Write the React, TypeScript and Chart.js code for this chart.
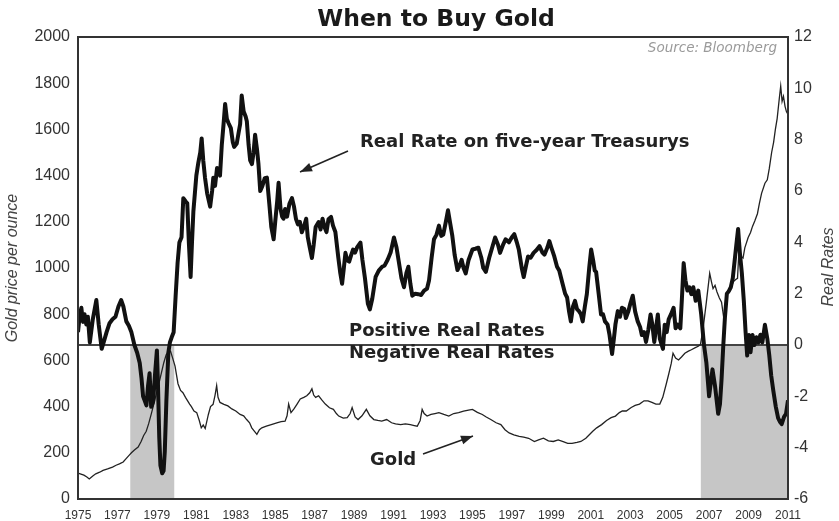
import React, { useEffect, useRef } from "react";
import { Chart, registerables } from "chart.js";

Chart.register(...registerables);

const xTickYears = [1975, 1977, 1979, 1981, 1983, 1985, 1987, 1989, 1991, 1993, 1995, 1997, 1999, 2001, 2003, 2005, 2007, 2009, 2011];
const goldTicks = [0, 200, 400, 600, 800, 1000, 1200, 1400, 1600, 1800, 2000];
const rateTicks = [-6, -4, -2, 0, 2, 4, 6, 8, 10, 12];

const shadeStart = [1977.65, 2006.58];
const shadeEnd = [1979.88, 2011];

const rateYears = [
  1975.0, 1975.08, 1975.17, 1975.25, 1975.33, 1975.42, 1975.5, 1975.6, 1975.75, 1975.93,
  1976.05, 1976.2, 1976.3, 1976.45, 1976.6, 1976.75, 1976.9, 1977.05, 1977.19, 1977.3,
  1977.45, 1977.58, 1977.7, 1977.86, 1978.0, 1978.13, 1978.22, 1978.3, 1978.4, 1978.47,
  1978.55, 1978.63, 1978.71, 1978.81, 1978.9, 1979.0, 1979.05, 1979.12, 1979.18, 1979.27,
  1979.34, 1979.4, 1979.48, 1979.58, 1979.66, 1979.75, 1979.85, 1979.95, 1980.05, 1980.14,
  1980.25, 1980.34, 1980.45, 1980.54, 1980.62, 1980.71, 1980.78, 1980.85, 1981.0, 1981.1,
  1981.2, 1981.27, 1981.35, 1981.44, 1981.55, 1981.7, 1981.8, 1981.86, 1981.95, 1982.05,
  1982.12, 1982.2, 1982.29, 1982.38, 1982.46, 1982.55, 1982.63, 1982.75, 1982.85, 1982.92,
  1983.05, 1983.15, 1983.22, 1983.3, 1983.4, 1983.5, 1983.56, 1983.65, 1983.73, 1983.82,
  1983.9, 1983.98, 1984.08, 1984.15, 1984.24, 1984.35, 1984.47, 1984.58, 1984.7, 1984.8,
  1984.92, 1985.0, 1985.1, 1985.17, 1985.27, 1985.35, 1985.42, 1985.5, 1985.6, 1985.72,
  1985.85, 1985.95, 1986.05, 1986.15, 1986.25, 1986.35, 1986.45, 1986.57, 1986.65, 1986.75,
  1986.86, 1986.95, 1987.05, 1987.2, 1987.3, 1987.4, 1987.5, 1987.6, 1987.7, 1987.83,
  1987.93, 1988.05, 1988.2, 1988.3, 1988.39, 1988.48, 1988.56, 1988.65, 1988.75, 1988.85,
  1988.95, 1989.05, 1989.15, 1989.32, 1989.42, 1989.55, 1989.7, 1989.8, 1989.92, 1990.09,
  1990.25, 1990.42, 1990.55, 1990.7, 1990.85, 1991.02, 1991.15, 1991.25, 1991.4, 1991.53,
  1991.65, 1991.75, 1991.85, 1991.95, 1992.1, 1992.25, 1992.4, 1992.55, 1992.7, 1992.8,
  1992.93, 1993.05, 1993.18, 1993.3, 1993.42, 1993.52, 1993.65, 1993.76, 1993.88, 1993.98,
  1994.1, 1994.24, 1994.35, 1994.45, 1994.55, 1994.66, 1994.8, 1995.0, 1995.15, 1995.3,
  1995.45, 1995.55, 1995.68, 1995.85, 1996.02, 1996.15, 1996.3, 1996.4, 1996.55, 1996.68,
  1996.85, 1997.0, 1997.12, 1997.25, 1997.35, 1997.5, 1997.6, 1997.72, 1997.82, 1997.95,
  1998.1, 1998.25, 1998.4, 1998.55, 1998.65, 1998.8, 1998.9, 1999.0, 1999.15, 1999.29,
  1999.4, 1999.57, 1999.7, 1999.8, 1999.9, 1999.99, 2000.1, 2000.2, 2000.3, 2000.4,
  2000.5, 2000.59, 2000.7, 2000.8, 2000.92, 2001.02, 2001.12, 2001.2, 2001.27, 2001.4,
  2001.52, 2001.62, 2001.72, 2001.85, 2001.95, 2002.08, 2002.18, 2002.25, 2002.37, 2002.48,
  2002.58, 2002.7, 2002.78, 2002.9, 2003.0, 2003.13, 2003.25, 2003.38, 2003.5, 2003.59,
  2003.7, 2003.8, 2003.92, 2004.03, 2004.12, 2004.22, 2004.3, 2004.4, 2004.5, 2004.66,
  2004.75, 2004.85, 2004.95, 2005.07, 2005.2, 2005.3, 2005.4, 2005.54, 2005.62, 2005.71,
  2005.8, 2005.9, 2006.0, 2006.1, 2006.2, 2006.32, 2006.45, 2006.6, 2006.74, 2006.86,
  2007.0, 2007.08, 2007.17, 2007.3, 2007.46, 2007.55, 2007.63, 2007.72, 2007.8, 2007.9,
  2008.0, 2008.1, 2008.2, 2008.3, 2008.38, 2008.47, 2008.56, 2008.66, 2008.76, 2008.85,
  2008.93, 2009.02, 2009.1, 2009.2, 2009.3, 2009.4, 2009.5, 2009.6, 2009.7, 2009.83,
  2009.95, 2010.05, 2010.15, 2010.25, 2010.38, 2010.5, 2010.6, 2010.68, 2010.8, 2010.9,
  2011.0,
];
const rateValues = [
  0.5, 1.1, 1.45, 0.9, 1.2, 0.8, 1.1, 0.1, 1.0, 1.75,
  0.8, -0.15, 0.1, 0.5, 0.85, 1.0, 1.1, 1.5, 1.75, 1.5,
  0.92, 0.75, 0.52, 0.0, -0.3, -0.7, -1.3, -2.0, -2.2, -2.35,
  -1.6, -1.1, -2.41, -2.2, -1.2, -0.21, -1.4, -3.6, -4.7, -5.0,
  -4.9, -4.15, -2.2, -0.3, 0.1, 0.3, 0.5, 1.9, 3.2, 3.99,
  4.2, 5.72, 5.6, 5.52, 4.0, 2.65, 4.0, 5.2, 6.6, 7.1,
  7.5, 8.05, 7.2, 6.52, 5.9, 5.39, 6.0, 6.52, 6.2, 6.9,
  6.85, 6.6, 7.79, 8.6, 9.39, 8.8, 8.65, 8.45, 7.9, 7.72,
  7.85, 8.3, 8.6, 9.72, 9.1, 8.9, 8.72, 7.8, 7.19, 7.05,
  7.5, 8.19, 7.6, 7.05, 6.0, 6.2, 6.5, 6.52, 5.5, 4.6,
  4.12, 4.8, 5.6, 6.32, 5.3, 5.0, 4.92, 5.3, 5.0, 5.5,
  5.72, 5.4, 4.92, 4.7, 4.8, 4.39, 4.6, 4.92, 4.2, 3.8,
  3.39, 3.9, 4.6, 4.79, 4.5, 4.92, 4.6, 4.4, 4.9, 4.99,
  4.65, 4.4, 3.4, 2.8, 2.39, 3.0, 3.59, 3.3, 3.25, 3.5,
  3.72, 3.6, 3.8, 3.99, 3.32, 2.6, 1.6, 1.39, 1.8, 2.65,
  2.9, 3.05, 3.1, 3.32, 3.6, 4.19, 3.8, 3.32, 2.6, 2.25,
  2.8, 3.05, 2.4, 1.92, 2.0, 1.98, 1.95, 2.12, 2.2, 2.52,
  3.4, 4.12, 4.3, 4.65, 4.25, 4.3, 4.8, 5.25, 4.7, 4.25,
  3.5, 2.92, 3.1, 3.32, 3.0, 2.79, 3.3, 3.72, 3.75, 3.79,
  3.4, 3.0, 2.85, 3.4, 3.85, 4.19, 3.9, 3.59, 3.9, 4.12,
  4.0, 4.2, 4.32, 4.0, 3.72, 3.0, 2.65, 3.1, 3.45, 3.4,
  3.59, 3.7, 3.85, 3.6, 3.52, 3.8, 4.05, 3.8, 3.45, 3.05,
  2.9, 2.39, 2.0, 1.85, 1.3, 0.92, 1.5, 1.72, 1.4, 1.32,
  1.2, 0.92, 1.5, 1.98, 3.0, 3.72, 3.3, 2.9, 2.85, 2.0,
  1.19, 1.2, 0.92, 0.8, 0.39, -0.35, 0.3, 0.8, 1.32, 1.1,
  1.45, 1.4, 1.05, 1.3, 1.6, 1.92, 1.3, 0.92, 0.7, 0.39,
  0.5, 0.12, 0.6, 1.19, 0.8, 0.12, 0.6, 1.19, 0.25, -0.15,
  0.79, 0.5, 1.0, 1.2, 1.45, 0.65, 0.8, 0.65, 1.8, 3.19,
  2.52, 2.12, 2.25, 1.98, 2.25, 1.72, 2.12, 1.19, 0.0, -0.68,
  -2.0, -1.5, -0.95, -1.6, -2.68, -2.3, -1.35, 0.0, 1.05, 2.0,
  2.1, 2.25, 2.6, 3.32, 3.9, 4.52, 3.59, 2.8, 1.72, 0.5,
  -0.41, 0.39, -0.28, 0.39, 0.0, 0.3, 0.1, 0.4, 0.1, 0.79,
  0.25, -0.4, -1.2, -1.75, -2.4, -2.85, -3.0, -3.08, -2.8, -2.68,
  -2.15,
];

const goldYears = [
  1975.0, 1975.15, 1975.3, 1975.45, 1975.57, 1975.75, 1975.9, 1976.1, 1976.27, 1976.5,
  1976.75, 1976.93, 1977.1, 1977.29, 1977.44, 1977.6, 1977.71, 1977.86, 1978.05, 1978.2,
  1978.33, 1978.46, 1978.58, 1978.71, 1978.84, 1978.97, 1979.1, 1979.22, 1979.35, 1979.47,
  1979.58, 1979.69, 1979.8, 1979.92, 1980.07, 1980.2, 1980.32, 1980.45, 1980.66, 1980.75,
  1980.88, 1981.02, 1981.15, 1981.25, 1981.35, 1981.45, 1981.61, 1981.72, 1981.85, 1981.95,
  1982.03, 1982.1, 1982.2, 1982.4, 1982.6, 1982.8, 1983.0, 1983.22, 1983.4, 1983.55,
  1983.7, 1983.81, 1983.95, 1984.07, 1984.2, 1984.32, 1984.55, 1984.8, 1985.08, 1985.3,
  1985.5, 1985.6, 1985.68, 1985.8, 1985.95, 1986.1, 1986.27, 1986.45, 1986.6, 1986.75,
  1986.86, 1986.95, 1987.05, 1987.2, 1987.35, 1987.54, 1987.75, 1987.95, 1988.1, 1988.22,
  1988.45, 1988.65, 1988.8, 1988.9, 1989.05, 1989.2, 1989.4, 1989.62, 1989.8, 1990.0,
  1990.2, 1990.4, 1990.65, 1990.9, 1991.1, 1991.36, 1991.6, 1991.85, 1992.05, 1992.2,
  1992.35, 1992.45, 1992.55, 1992.7, 1992.9, 1993.1, 1993.3, 1993.55, 1993.8, 1994.05,
  1994.3, 1994.55, 1994.8, 1995.0, 1995.25, 1995.5, 1995.7, 1995.93, 1996.2, 1996.44,
  1996.65, 1996.86, 1997.1, 1997.37, 1997.6, 1997.85, 1998.14, 1998.35, 1998.6, 1998.85,
  1999.1, 1999.35, 1999.6, 1999.83, 2000.05, 2000.3, 2000.5, 2000.75, 2000.95, 2001.1,
  2001.3, 2001.55, 2001.8, 2002.03, 2002.25, 2002.45, 2002.6, 2002.8, 2003.05, 2003.25,
  2003.47, 2003.7, 2003.9, 2004.1, 2004.3, 2004.5, 2004.65, 2004.83, 2004.95, 2005.08,
  2005.17, 2005.3, 2005.45, 2005.6, 2005.77, 2005.95, 2006.1, 2006.3, 2006.45, 2006.56,
  2006.69, 2006.86, 2007.03, 2007.12, 2007.2, 2007.3, 2007.4, 2007.52, 2007.63, 2007.75,
  2007.88, 2008.0, 2008.1, 2008.22, 2008.35, 2008.44, 2008.52, 2008.62, 2008.72, 2008.81,
  2008.98, 2009.1, 2009.2, 2009.32, 2009.45, 2009.55, 2009.66, 2009.83, 2009.95, 2010.05,
  2010.17, 2010.27, 2010.36, 2010.45, 2010.56, 2010.63, 2010.7, 2010.77, 2010.85, 2010.92,
  2011.0,
];
const goldValues = [
  112, 108, 103, 95, 87, 100, 109, 116, 124, 130,
  138, 146, 152, 160, 175, 190, 200, 212, 225, 249,
  275, 293, 325, 366, 410, 455, 500, 543, 590, 624,
  636, 640, 610, 575, 499, 470, 460, 440, 411, 400,
  381, 374, 340, 308, 320, 305, 366, 400, 410, 450,
  491, 440, 418, 410, 403, 390, 381, 366, 360, 344,
  330, 308, 293, 280, 300, 308, 315, 322, 330, 335,
  337, 360, 411, 374, 390, 410, 433, 440, 447, 460,
  477, 450, 440, 447, 430, 411, 395, 388, 370, 359,
  350, 352, 370, 396, 355, 344, 360, 388, 360, 344,
  340, 337, 344, 330, 325, 322, 325, 322, 318, 315,
  340, 388, 370, 359, 366, 370, 374, 366, 359, 370,
  374, 380, 385, 388, 375, 366, 355, 344, 330, 322,
  300, 286, 278, 271, 268, 263, 249, 256, 263, 252,
  249, 256, 248, 241, 241, 245, 249, 263, 280, 293,
  308, 322, 340, 352, 359, 374, 381, 381, 396, 405,
  411, 425, 425, 418, 411, 411, 440, 499, 540, 587,
  631, 610, 602, 615, 631, 640, 646, 655, 661, 668,
  734, 852, 977, 940, 911, 925, 896, 870, 852, 779,
  882, 900, 911, 940, 950, 955, 1087, 1050, 1043, 1087,
  1132, 1154, 1180, 1205, 1235, 1280, 1323, 1367, 1382, 1430,
  1500, 1544, 1600, 1647, 1735, 1787, 1721, 1743, 1700, 1677,
  1665,
];

function drawArrow(ctx: CanvasRenderingContext2D, x1: number, y1: number, x2: number, y2: number) {
  ctx.save();
  ctx.strokeStyle = "#222";
  ctx.fillStyle = "#222";
  ctx.lineWidth = 1.6;
  ctx.beginPath();
  ctx.moveTo(x1, y1);
  ctx.lineTo(x2, y2);
  ctx.stroke();
  const a = Math.atan2(y2 - y1, x2 - x1);
  const len = 12;
  const w = 4.5;
  ctx.beginPath();
  ctx.moveTo(x2, y2);
  ctx.lineTo(x2 - len * Math.cos(a) + w * Math.sin(a), y2 - len * Math.sin(a) - w * Math.cos(a));
  ctx.lineTo(x2 - len * Math.cos(a) - w * Math.sin(a), y2 - len * Math.sin(a) + w * Math.cos(a));
  ctx.closePath();
  ctx.fill();
  ctx.restore();
}

const decorPlugin = {
  id: "decor",
  beforeDatasetsDraw(chart: any) {
    const { ctx, chartArea } = chart;
    const xs = chart.scales.x;
    const yr = chart.scales.yR;
    ctx.save();
    ctx.fillStyle = "#c6c6c6";
    for (let i = 0; i < shadeStart.length; i++) {
      const a = xs.getPixelForValue(shadeStart[i]);
      const b = xs.getPixelForValue(shadeEnd[i]);
      ctx.fillRect(a, yr.getPixelForValue(0), b - a, chartArea.bottom - yr.getPixelForValue(0));
    }
    ctx.strokeStyle = "#444";
    ctx.lineWidth = 2;
    const y0 = Math.round(yr.getPixelForValue(0));
    ctx.beginPath();
    ctx.moveTo(chartArea.left, y0);
    ctx.lineTo(chartArea.right, y0);
    ctx.stroke();
    ctx.restore();
  },
  afterDraw(chart: any) {
    const { ctx, chartArea } = chart;
    ctx.save();
    ctx.strokeStyle = "#333";
    ctx.lineWidth = 2;
    ctx.strokeRect(chartArea.left, chartArea.top, chartArea.right - chartArea.left, chartArea.bottom - chartArea.top);

    ctx.fillStyle = "#1a1a1a";
    ctx.textBaseline = "middle";
    ctx.textAlign = "center";
    ctx.font = "bold 23.5px 'DejaVu Sans'";
    ctx.fillText("When to Buy Gold", 436, 20);

    ctx.textAlign = "right";
    ctx.fillStyle = "#9a9a9a";
    ctx.font = "italic 13.5px 'DejaVu Sans'";
    ctx.fillText("Source: Bloomberg", 777, 48);

    ctx.textAlign = "left";
    ctx.fillStyle = "#222";
    ctx.font = "bold 18px 'DejaVu Sans'";
    ctx.fillText("Real Rate on five-year Treasurys", 360, 142);
    ctx.fillText("Positive Real Rates", 349, 331);
    ctx.fillText("Negative Real Rates", 349, 353);
    ctx.fillText("Gold", 370, 460);

    drawArrow(ctx, 348, 151, 300, 172);
    drawArrow(ctx, 423, 454, 473, 436);

    ctx.fillStyle = "#444";
    ctx.font = "italic 16px 'Liberation Sans'";
    ctx.textAlign = "center";
    ctx.save();
    ctx.translate(13, 268);
    ctx.rotate(-Math.PI / 2);
    ctx.fillText("Gold price per ounce", 0, 0);
    ctx.restore();
    ctx.save();
    ctx.translate(829, 267);
    ctx.rotate(-Math.PI / 2);
    ctx.fillText("Real Rates", 0, 0);
    ctx.restore();
    ctx.restore();
  },
};

export default function App() {
  const ref = useRef<HTMLCanvasElement | null>(null);
  useEffect(() => {
    if (!ref.current) return;
    const chart = new Chart(ref.current, {
      type: "line",
      data: {
        datasets: [
          {
            label: "Real Rate",
            data: rateYears.map((x, i) => ({ x, y: rateValues[i] })),
            yAxisID: "yR",
            borderColor: "#111",
            borderWidth: 4,
            pointRadius: 0,
            tension: 0,
            borderJoinStyle: "round",
          },
          {
            label: "Gold",
            data: goldYears.map((x, i) => ({ x, y: goldValues[i] })),
            yAxisID: "yG",
            borderColor: "#222",
            borderWidth: 1.3,
            pointRadius: 0,
            tension: 0,
          },
        ],
      },
      options: {
        responsive: false,
        animation: false,
        devicePixelRatio: 1,
        layout: { padding: { top: 37, left: 0, right: 0, bottom: 0 } },
        plugins: { legend: { display: false }, title: { display: false }, tooltip: { enabled: false } },
        scales: {
          x: {
            type: "linear",
            min: 1975,
            max: 2011,
            afterBuildTicks: (s: any) => { s.ticks = xTickYears.map((v) => ({ value: v })); },
            ticks: { callback: (v: any) => String(v), font: { family: "'Liberation Sans'", size: 12 }, color: "#333", padding: 9, maxRotation: 0, autoSkip: false },
            grid: { display: false, drawTicks: false },
            border: { display: false },
            afterFit: (s: any) => { s.height = 22; },
          },
          yG: {
            type: "linear",
            position: "left",
            min: 0,
            max: 2000,
            afterBuildTicks: (s: any) => { s.ticks = goldTicks.map((v) => ({ value: v })); },
            ticks: { callback: (v: any) => String(v), font: { family: "'Liberation Sans'", size: 16 }, color: "#333", padding: 8 },
            grid: { display: false, drawTicks: false },
            border: { display: false },
            afterFit: (s: any) => { s.width = 78; },
          },
          yR: {
            type: "linear",
            position: "right",
            min: -6,
            max: 12,
            afterBuildTicks: (s: any) => { s.ticks = rateTicks.map((v) => ({ value: v })); },
            ticks: { callback: (v: any) => String(v), font: { family: "'Liberation Sans'", size: 16 }, color: "#333", padding: 6 },
            grid: { display: false, drawTicks: false },
            border: { display: false },
            afterFit: (s: any) => { s.width = 51; },
          },
        },
      },
      plugins: [decorPlugin],
    } as any);
    return () => chart.destroy();
  }, []);
  return (
    <div style={{ position: "absolute", left: 0, top: 0, width: 839, height: 521, background: "#fff" }}>
      <canvas ref={ref} width={839} height={521} />
    </div>
  );
}
